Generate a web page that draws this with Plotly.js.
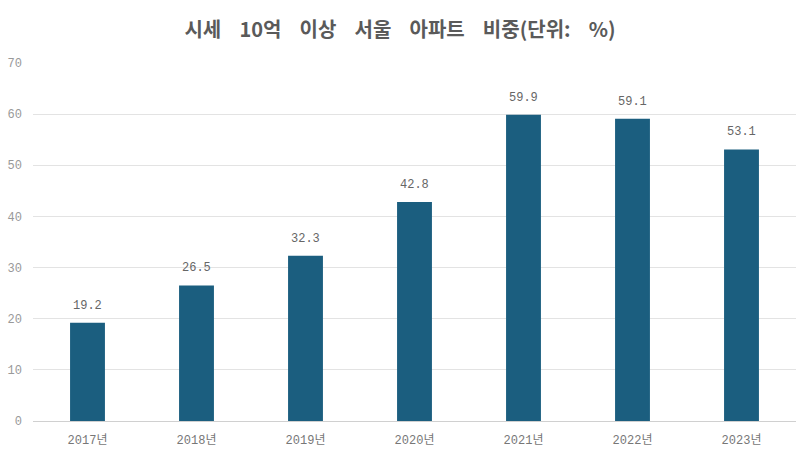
<!DOCTYPE html>
<html>
<head>
<meta charset="utf-8">
<script src="https://cdn.plot.ly/plotly-3.0.1.min.js"></script>
<style>html,body{margin:0;padding:0;background:#fff;}#chart{width:800px;height:463px;}</style>
</head>
<body>
<div id="chart"></div>
<script>
const years = ["2017년","2018년","2019년","2020년","2021년","2022년","2023년"];
const shares = [19.2, 26.5, 32.3, 42.8, 59.9, 59.1, 53.1];
const labels = ["19.2","26.5","32.3","42.8","59.9","59.1","53.1"];
const yTicks = [0,10,20,30,40,50,60,70];

const trace = {
  type: "bar",
  x: years,
  y: shares,
  marker: {color: "#1b5e7f", line: {color: "#1b5e7f", width: 0}},
  hoverinfo: "skip"
};

const annotations = years.map((yr, i) => ({
  x: yr, y: shares[i], xref: "x", yref: "y",
  text: labels[i], showarrow: false,
  yanchor: "bottom", yshift: 8,
  font: {family: "Liberation Mono, DejaVu Sans Mono, monospace", size: 12, color: "#666"}
}));

const sp = "\u00a0\u00a0\u00a0\u00a0";
const layout = {
  width: 800, height: 463,
  margin: {l: 33, r: 4, t: 63, b: 42},
  paper_bgcolor: "#fff", plot_bgcolor: "#fff",
  bargap: 0.68,
  showlegend: false,
  annotations: annotations,
  title: {
    text: "<b>시세" + sp + "10억" + sp + "이상" + sp + "서울" + sp + "아파트" + sp + "비중(단위:" + sp + "%)</b>",
    x: 0.5, xanchor: "center", y: 0.935, yanchor: "middle",
    font: {family: "Noto Sans CJK KR, sans-serif", size: 20, color: "#5a5a5a"}
  },
  xaxis: {
    type: "category",
    showgrid: false, zeroline: false, showline: false,
    ticks: "", ticklabelstandoff: 10,
    tickfont: {family: "Liberation Mono, Noto Sans CJK KR, monospace", size: 12, color: "#777"}
  },
  yaxis: {
    range: [0, 70], tickvals: yTicks, ticktext: yTicks.map(String),
    showgrid: true, gridcolor: "#e3e3e3", gridwidth: 1,
    zeroline: true, zerolinecolor: "#d0d0d0", zerolinewidth: 1,
    showline: false, ticks: "", ticklabelstandoff: 10,
    tickfont: {family: "Liberation Mono, DejaVu Sans Mono, monospace", size: 12, color: "#999"}
  }
};

Plotly.newPlot("chart", [trace], layout, {displayModeBar: false, staticPlot: true});
</script>
</body>
</html>
